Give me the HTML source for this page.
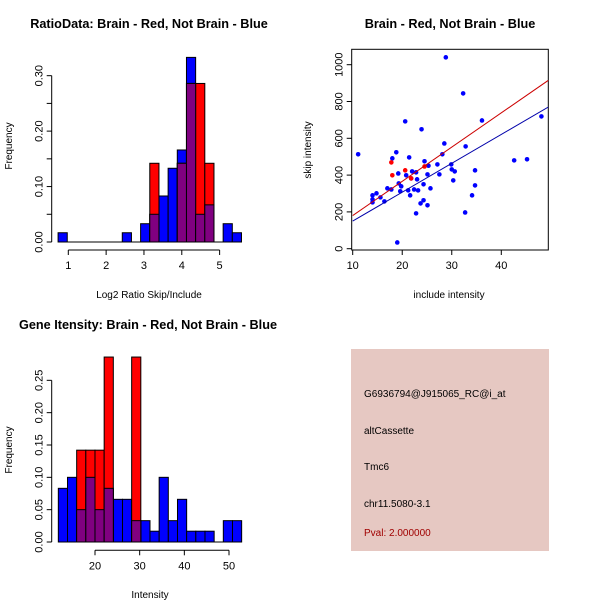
<!DOCTYPE html>
<html><head><meta charset="utf-8"><style>
html,body{margin:0;padding:0;background:#fff}
svg{display:block;font-family:"Liberation Sans",sans-serif}
</style></head><body>
<svg id="s" width="600" height="600" viewBox="0 0 600 600">
<rect width="600" height="600" fill="#fff"/>
<text x="149" y="28" text-anchor="middle" font-size="12.7" font-weight="bold">RatioData: Brain - Red, Not Brain - Blue</text>
<text x="450" y="28" text-anchor="middle" font-size="12.7" font-weight="bold">Brain - Red, Not Brain - Blue</text>
<text x="148" y="329" text-anchor="middle" font-size="12.7" font-weight="bold">Gene Itensity: Brain - Red, Not Brain - Blue</text>
<text x="149" y="298" text-anchor="middle" font-size="10">Log2 Ratio Skip/Include</text>
<text transform="translate(12,146) rotate(-90)" text-anchor="middle" font-size="10">Frequency</text>
<text x="449" y="298" text-anchor="middle" font-size="10">include intensity</text>
<text transform="translate(311,150) rotate(-90)" text-anchor="middle" font-size="10">skip intensity</text>
<text x="150" y="598" text-anchor="middle" font-size="10">Intensity</text>
<text transform="translate(12,450) rotate(-90)" text-anchor="middle" font-size="10">Frequency</text>
<g>
<rect x="351" y="349" width="198" height="202" fill="#e6c8c2"/>
<text x="364" y="397" font-size="10">G6936794@J915065_RC@i_at</text>
<text x="364" y="434" font-size="10">altCassette</text>
<text x="364" y="470" font-size="10">Tmc6</text>
<text x="364" y="507" font-size="10">chr11.5080-3.1</text>
<text x="364" y="536" font-size="10" fill="#a00000">Pval: 2.000000</text>
</g>
</svg>
<script>
// Ratio histogram data
const ratioBinStart = 0.73, ratioBinWidth = 0.2424;
const ratioBlue = [0.0167,0,0,0,0,0,0,0.0167,0,0.033,0.05,0.083,0.133,0.166,0.333,0.05,0.067,0,0.033,0.0167];
const ratioRed  = [0,0,0,0,0,0,0,0,0,0,0.142,0,0,0.142,0.286,0.286,0.142,0,0,0];
const ratioYTicks = [0,0.05,0.1,0.15,0.2,0.25,0.3];
const ratioYLabels = ["0.00","","0.10","","0.20","","0.30"];
const ratioXTicks = [1,2,3,4,5];
// Intensity histogram data
const intBinStart = 11.79, intBinWidth = 2.052;
const intBlue = [0.083,0.1,0.05,0.1,0.05,0.083,0.066,0.066,0.033,0.033,0.0167,0.1,0.033,0.066,0.0167,0.0167,0.0167,0,0.033,0.033];
const intRed  = [0,0,0.142,0.142,0.142,0.286,0,0,0.286,0,0,0,0,0,0,0,0,0,0,0];
const intYTicks = [0,0.05,0.1,0.15,0.2,0.25];
const intYLabels = ["0.00","0.05","0.10","0.15","0.20","0.25"];
const intXTicks = [20,30,40,50];
// Scatter data
const blueX = [11.1,28.8,32.3,20.6,36.1,48.1,23.9,28.5,32.8,18.8,28.1,21.4,18.0,42.6,45.2,24.5,25.3,29.9,27.1,30.0,30.6,34.7,27.5,25.1,22.0,22.8,19.2,20.8,30.3,23.0,21.8,24.3,34.7,19.3,19.8,17.0,25.7,17.8,22.4,23.2,21.2,19.6,14.0,14.8,15.6,14.0,21.6,34.1,16.4,14.0,24.3,23.7,25.1,22.8,32.7,19.0];
const blueY = [513,1040,844,692,697,719,649,572,556,524,513,496,491,480,486,475,451,458,458,431,420,426,404,404,420,415,409,399,371,377,382,350,344,355,339,328,328,322,322,317,317,312,290,301,279,268,290,290,257,252,263,246,236,192,197,34];
const redX = [17.8,18.0,20.6,21.8,24.5];
const redY = [469,399,426,382,447];
const redLine = [[10,180],[49.5,915]];
const blueLine = [[10,150],[49.5,770]];
const scXTicks = [10,20,30,40];
const scYTicks = [0,200,400,600,800,1000];

const svg = document.getElementById('s');
const NS = 'http://www.w3.org/2000/svg';
function mk(tag, attrs, parent){const e=document.createElementNS(NS,tag);for(const k in attrs)e.setAttribute(k,attrs[k]);(parent||svg).appendChild(e);return e;}

function hist(cfg){
  const g = mk('g',{});
  
  
  const X = v => cfg.x0 + (v - cfg.xv0) * cfg.xs;
  const Y = v => cfg.y0 - v * cfg.ys;
  const n = cfg.blue.length;
  const draw = (arr, col, nm) => arr.forEach((v,i)=>{ if(v<=0) return;
    const a = cfg.start + i*cfg.w, b = a + cfg.w;
    const r = mk('rect',{x:X(a),y:Y(v),width:X(b)-X(a),height:Y(0)-Y(v),fill:col,stroke:'#000','stroke-width':1},g);
    
    
  });
  draw(cfg.blue,'#0000ff','bar-blue');
  draw(cfg.red,'#ff0000','bar-red');
  draw(cfg.blue.map((v,i)=>Math.min(v,cfg.red[i])),'#800080','bar-overlap');
  const bl = mk('line',{x1:X(cfg.start),x2:X(cfg.start+n*cfg.w),y1:Y(0),y2:Y(0),stroke:'#000'},g);
  
  
  const yt = cfg.yTicks;
  const ya = mk('line',{x1:cfg.yAxisX,x2:cfg.yAxisX,y1:Y(yt[0]),y2:Y(yt[yt.length-1]),stroke:'#000'},g);
  
  
  yt.forEach((t,i)=>{
    mk('line',{x1:cfg.yAxisX-5,x2:cfg.yAxisX,y1:Y(t),y2:Y(t),stroke:'#000'},g);
    if(cfg.yLabels[i]){
      const tx = mk('text',{transform:`translate(${cfg.yAxisX-9},${Y(t)}) rotate(-90)`,'text-anchor':'middle','font-size':11},g);
      tx.textContent = cfg.yLabels[i];
      
      
    }
  });
  const xt = cfg.xTicks;
  const xa = mk('line',{x1:X(xt[0]),x2:X(xt[xt.length-1]),y1:cfg.xAxisY,y2:cfg.xAxisY,stroke:'#000'},g);
  
  
  xt.forEach(t=>{
    mk('line',{x1:X(t),x2:X(t),y1:cfg.xAxisY,y2:cfg.xAxisY+5,stroke:'#000'},g);
    const tx = mk('text',{x:X(t),y:cfg.xAxisY+19,'text-anchor':'middle','font-size':11},g);
    tx.textContent = t;
    
    
  });
}

hist({name:'ratio-histogram',blue:ratioBlue,red:ratioRed,start:ratioBinStart,w:ratioBinWidth,
  x0:68.3,xv0:1,xs:37.83,y0:242,ys:554.4,yAxisX:51.7,xAxisY:250,
  yTicks:ratioYTicks,yLabels:ratioYLabels,xTicks:ratioXTicks});
hist({name:'intensity-histogram',blue:intBlue,red:intRed,start:intBinStart,w:intBinWidth,
  x0:95,xv0:20,xs:4.467,y0:542,ys:646.7,yAxisX:51.7,xAxisY:550.3,
  yTicks:intYTicks,yLabels:intYLabels,xTicks:intXTicks});

(function(){
  const g = mk('g',{});
  
  
  const X = v => 352.7 + (v-10)*4.953;
  const Y = v => 248.7 - v*0.184;
  const L=351.7,R=548.3,T=49.3,B=250;
  const cp = mk('clipPath',{id:'cp'},g);
  mk('rect',{x:L,y:T,width:R-L,height:B-T},cp);
  const box = mk('rect',{x:L,y:T,width:R-L,height:B-T,fill:'none',stroke:'#000'},g);
  
  
  scXTicks.forEach(t=>{
    mk('line',{x1:X(t),x2:X(t),y1:B,y2:B+5,stroke:'#000'},g);
    const tx = mk('text',{x:X(t),y:B+19,'text-anchor':'middle','font-size':11},g);
    tx.textContent=t;
    
    
  });
  scYTicks.forEach(t=>{
    mk('line',{x1:L-5,x2:L,y1:Y(t),y2:Y(t),stroke:'#000'},g);
    const tx = mk('text',{transform:`translate(${L-9},${Y(t)}) rotate(-90)`,'text-anchor':'middle','font-size':11},g);
    tx.textContent=t;
    
    
  });
  blueX.forEach((x,i)=>{
    const c = mk('circle',{cx:X(x),cy:Y(blueY[i]),r:2.3,fill:'#0000ff'},g);
    
    
  });
  redX.forEach((x,i)=>{
    const c = mk('circle',{cx:X(x),cy:Y(redY[i]),r:2.3,fill:'#ff0000'},g);
    
    
  });
  const rl = mk('line',{x1:X(redLine[0][0]),y1:Y(redLine[0][1]),x2:X(redLine[1][0]),y2:Y(redLine[1][1]),stroke:'#cc0000','clip-path':'url(#cp)'},g);
  
  
  const bl = mk('line',{x1:X(blueLine[0][0]),y1:Y(blueLine[0][1]),x2:X(blueLine[1][0]),y2:Y(blueLine[1][1]),stroke:'#0000aa','clip-path':'url(#cp)'},g);
  
  
})();
</script>
</body></html>
